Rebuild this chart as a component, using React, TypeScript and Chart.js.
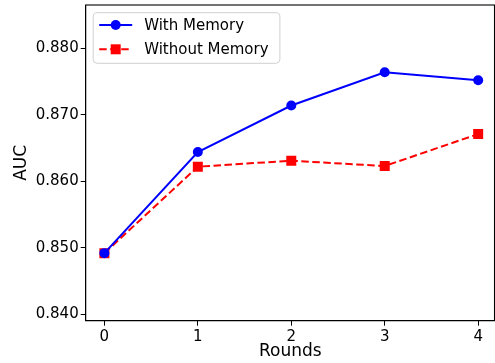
import React, { useEffect, useRef } from "react";
import { Chart, registerables } from "chart.js";

Chart.register(...registerables);

const rounds = [0, 1, 2, 3, 4];
const withMemory = [0.8492, 0.8644, 0.8714, 0.8764, 0.8752];
const withoutMemory = [0.8492, 0.8622, 0.8631, 0.8623, 0.8671];
const yTicks = [0.84, 0.85, 0.86, 0.87, 0.88];
const seriesLabels = ["With Memory", "Without Memory"];

const FONT = "'DejaVu Sans', sans-serif";

const boxPlugin = {
  id: "boxPlugin",
  afterDraw(chart: any) {
    const { ctx, chartArea } = chart;
    ctx.save();
    ctx.strokeStyle = "#000";
    ctx.lineWidth = 1.1;
    ctx.strokeRect(chartArea.left, chartArea.top, chartArea.right - chartArea.left - 0.5, chartArea.bottom - chartArea.top);
    // legend
    const x0 = chartArea.left + 7.5;
    const y0 = chartArea.top + 7.7;
    const w = 186.7;
    const h = 50.6;
    ctx.beginPath();
    ctx.roundRect(x0, y0, w, h, 4);
    ctx.fillStyle = "rgba(255,255,255,0.8)";
    ctx.fill();
    ctx.strokeStyle = "#d0d0d0";
    ctx.lineWidth = 1;
    ctx.stroke();
    const ds = chart.data.datasets;
    const rows = [y0 + 12.3, y0 + 36.6];
    ds.forEach((d: any, i: number) => {
      const yy = rows[i];
      const lx0 = x0 + 6;
      const lx1 = x0 + 39;
      const cx = (lx0 + lx1) / 2;
      ctx.save();
      ctx.strokeStyle = d.borderColor;
      ctx.lineWidth = d.borderWidth;
      ctx.setLineDash(d.borderDash || []);
      ctx.beginPath();
      ctx.moveTo(lx0, yy);
      ctx.lineTo(lx1, yy);
      ctx.stroke();
      ctx.restore();
      ctx.fillStyle = d.pointBackgroundColor;
      ctx.beginPath();
      if (d.pointStyle === "rect") {
        ctx.rect(cx - 5, yy - 5, 10, 10);
      } else {
        ctx.arc(cx, yy, 5, 0, Math.PI * 2);
      }
      ctx.fill();
      ctx.fillStyle = "#000";
      ctx.font = `15px ${FONT}`;
      ctx.textBaseline = "middle";
      ctx.textAlign = "left";
      ctx.fillText(d.label, x0 + 51, yy + 1);
    });
    ctx.restore();
  },
};

export default function App() {
  const ref = useRef<HTMLCanvasElement>(null);
  useEffect(() => {
    if (!ref.current) return;
    const chart = new Chart(ref.current, {
      type: "line",
      data: {
        datasets: [
          {
            label: seriesLabels[0],
            data: rounds.map((r, i) => ({ x: r, y: withMemory[i] })),
            borderColor: "#0000ff",
            backgroundColor: "#0000ff",
            pointBackgroundColor: "#0000ff",
            pointBorderWidth: 0,
            pointRadius: 5,
            pointStyle: "circle",
            borderWidth: 2,
            tension: 0,
          },
          {
            label: seriesLabels[1],
            data: rounds.map((r, i) => ({ x: r, y: withoutMemory[i] })),
            borderColor: "#ff0000",
            backgroundColor: "#ff0000",
            pointBackgroundColor: "#ff0000",
            pointBorderWidth: 0,
            pointRadius: 7.07,
            pointStyle: "rect",
            borderWidth: 2,
            borderDash: [7.5, 3.5],
            tension: 0,
          },
        ],
      },
      options: {
        responsive: false,
        animation: false,
        devicePixelRatio: 1,
        layout: { autoPadding: false, padding: { top: 5, right: 0, left: 0, bottom: 0 } },
        plugins: { legend: { display: false }, tooltip: { enabled: false } },
        scales: {
          x: {
            type: "linear",
            min: -0.2,
            max: 4.18,
            afterBuildTicks: (s: any) => {
              s.ticks = rounds.map((v) => ({ value: v }));
            },
            afterFit: (s: any) => {
              s.height = 42.3;
              s.paddingLeft = 0;
              s.paddingRight = 0;
            },
            grid: { display: true, drawOnChartArea: false, drawTicks: true, tickLength: 5, color: "#000", lineWidth: 1 },
            border: { display: true, color: "#000", width: 1 },
            ticks: {
              color: "#000",
              font: { family: FONT, size: 15 },
              padding: 2,
              callback: (v: any) => String(v),
            },
            title: {
              display: true,
              text: "Rounds",
              color: "#000",
              font: { family: FONT, size: 17 },
              padding: { top: 0, bottom: 1 },
            },
          },
          y: {
            type: "linear",
            min: 0.83904,
            max: 0.88651,
            afterBuildTicks: (s: any) => {
              s.ticks = yTicks.map((v) => ({ value: v }));
            },
            afterFit: (s: any) => {
              s.width = 85.7;
              s.paddingTop = 0;
              s.paddingBottom = 0;
            },
            grid: { display: true, drawOnChartArea: false, drawTicks: true, tickLength: 5, color: "#000", lineWidth: 1 },
            border: { display: true, color: "#000", width: 1 },
            ticks: {
              color: "#000",
              font: { family: FONT, size: 15 },
              padding: 2,
              callback: (v: any) => Number(v).toFixed(3),
            },
            title: {
              display: true,
              text: "AUC",
              color: "#000",
              font: { family: FONT, size: 17 },
              padding: { top: 11.5, bottom: 0 },
            },
          },
        },
      },
      plugins: [boxPlugin],
    } as any);
    return () => chart.destroy();
  }, []);
  return (
    <div style={{ position: "absolute", left: 0, top: 0, width: 495, height: 363, background: "#fff" }}>
      <canvas ref={ref} width={495} height={363} style={{ display: "block" }} />
    </div>
  );
}
